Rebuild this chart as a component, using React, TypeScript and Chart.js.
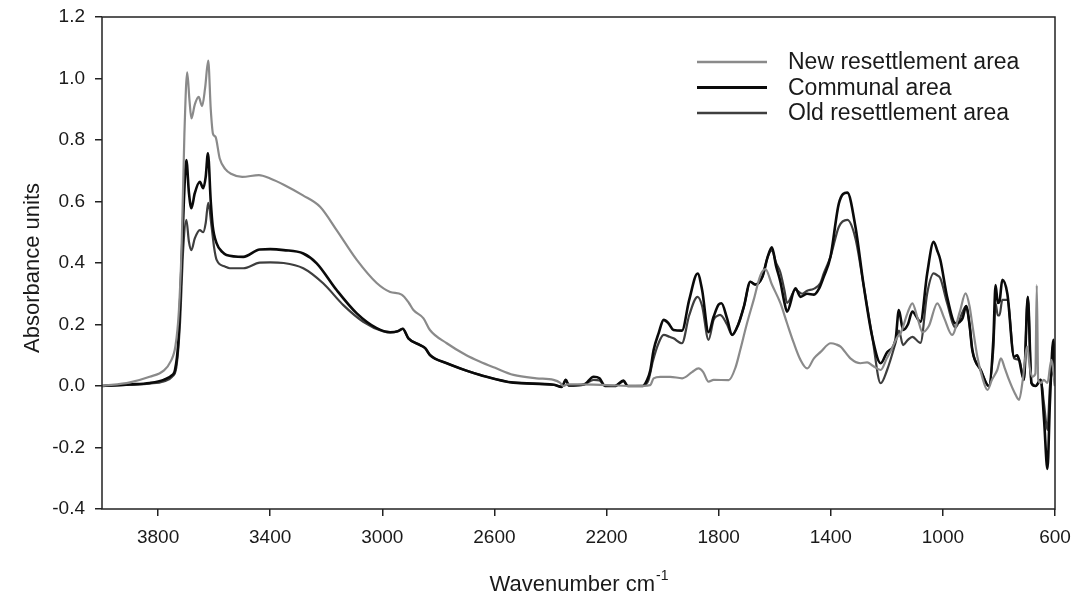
import React, { useEffect, useRef } from 'react';
import { Chart, registerables } from 'chart.js';

Chart.register(...registerables);

// Axis tick values
const xTicks = [3800, 3400, 3000, 2600, 2200, 1800, 1400, 1000, 600];
const yTicks = [-0.4, -0.2, 0, 0.2, 0.4, 0.6, 0.8, 1.0, 1.2];

const seriesNames = ['New resettlement area', 'Communal area', 'Old resettlement area'];
const seriesColors = ['#8a8a8a', '#0a0a0a', '#3e3e3e'];
const seriesWidths = [2.2, 2.6, 2.2];

// [wavenumber cm-1, absorbance]
const newSpectrum: [number, number][] = [
  [4000, 0.0], [3900, 0.012], [3830, 0.03], [3780, 0.05], [3755, 0.08], [3738, 0.13],
  [3726, 0.24], [3716, 0.45], [3706, 0.82], [3696, 1.02], [3688, 0.93], [3681, 0.87],
  [3669, 0.915], [3655, 0.94], [3643, 0.91], [3632, 0.97], [3621, 1.058], [3612, 0.9],
  [3604, 0.82], [3595, 0.81], [3580, 0.74], [3560, 0.705], [3540, 0.69], [3500, 0.68],
  [3440, 0.686], [3400, 0.675], [3350, 0.654], [3283, 0.62], [3222, 0.583], [3163, 0.507],
  [3091, 0.41], [3020, 0.335], [2972, 0.306], [2931, 0.297], [2905, 0.27], [2889, 0.247],
  [2853, 0.22], [2830, 0.182], [2770, 0.139], [2700, 0.1], [2651, 0.079], [2600, 0.06],
  [2532, 0.036], [2450, 0.025], [2389, 0.02], [2365, 0.01], [2355, 0.0], [2340, 0.005],
  [2300, 0.005], [2200, 0.003], [2100, 0.0], [2044, 0.003], [2032, 0.025], [2008, 0.03],
  [1973, 0.03], [1930, 0.025], [1895, 0.045], [1872, 0.057], [1855, 0.045], [1836, 0.014],
  [1818, 0.02], [1764, 0.019], [1740, 0.06], [1723, 0.117], [1700, 0.2], [1675, 0.28],
  [1651, 0.36], [1633, 0.38], [1610, 0.33], [1580, 0.27], [1556, 0.204], [1532, 0.14],
  [1508, 0.085], [1484, 0.057], [1460, 0.09], [1437, 0.11], [1400, 0.139], [1380, 0.135],
  [1365, 0.128], [1330, 0.09], [1294, 0.074], [1270, 0.077], [1250, 0.066], [1222, 0.052],
  [1200, 0.09], [1187, 0.112], [1162, 0.16], [1151, 0.171], [1125, 0.24], [1109, 0.269],
  [1090, 0.22], [1073, 0.175], [1050, 0.195], [1020, 0.269], [995, 0.22], [967, 0.166],
  [940, 0.24], [919, 0.301], [905, 0.26], [895, 0.2], [877, 0.095], [860, 0.03],
  [841, -0.013], [825, 0.02], [806, 0.052], [793, 0.09], [780, 0.06], [764, 0.02],
  [745, -0.02], [728, -0.045], [715, 0.02], [699, 0.128], [690, 0.06], [681, 0.03],
  [670, 0.04], [665, 0.328], [660, 0.02], [650, 0.01], [640, 0.02], [627, 0.01],
  [613, 0.085], [606, 0.05], [600, 0.0],
];

const communalSpectrum: [number, number][] = [
  [4000, 0.0], [3900, 0.005], [3830, 0.01], [3780, 0.02], [3750, 0.035], [3740, 0.05],
  [3728, 0.14], [3718, 0.35], [3708, 0.6], [3699, 0.735], [3690, 0.63], [3681, 0.578],
  [3669, 0.627], [3651, 0.664], [3639, 0.643], [3630, 0.68], [3622, 0.757], [3612, 0.6],
  [3605, 0.52], [3591, 0.464], [3570, 0.435], [3556, 0.426], [3496, 0.42], [3437, 0.444],
  [3400, 0.445], [3352, 0.442], [3282, 0.431], [3234, 0.399], [3163, 0.312], [3091, 0.236],
  [3020, 0.188], [2972, 0.175], [2945, 0.178], [2927, 0.186], [2907, 0.155], [2865, 0.133],
  [2847, 0.123], [2830, 0.101], [2770, 0.074], [2700, 0.05], [2651, 0.036], [2532, 0.011],
  [2389, 0.004], [2360, -0.003], [2345, 0.02], [2335, 0.002], [2280, 0.005], [2246, 0.03],
  [2225, 0.025], [2205, 0.0], [2170, 0.0], [2139, 0.018], [2125, 0.0], [2071, 0.0],
  [2055, 0.02], [2044, 0.05], [2032, 0.117], [2014, 0.172], [1996, 0.215], [1980, 0.205],
  [1961, 0.182], [1931, 0.18], [1905, 0.28], [1875, 0.366], [1859, 0.312], [1836, 0.175],
  [1818, 0.225], [1800, 0.265], [1790, 0.269], [1770, 0.22], [1752, 0.166], [1730, 0.2],
  [1710, 0.258], [1687, 0.339], [1669, 0.33], [1644, 0.355], [1625, 0.42], [1610, 0.451],
  [1595, 0.39], [1580, 0.34], [1565, 0.27], [1556, 0.242], [1526, 0.318], [1508, 0.29],
  [1484, 0.3], [1460, 0.297], [1440, 0.32], [1425, 0.355], [1401, 0.42], [1371, 0.594],
  [1341, 0.629], [1312, 0.518], [1282, 0.323], [1252, 0.16], [1222, 0.074], [1199, 0.11],
  [1169, 0.15], [1157, 0.247], [1142, 0.182], [1125, 0.2], [1109, 0.242], [1080, 0.209],
  [1056, 0.366], [1033, 0.469], [1020, 0.44], [1009, 0.41], [985, 0.29], [955, 0.204],
  [930, 0.22], [917, 0.26], [905, 0.2], [895, 0.117], [865, 0.052], [836, 0.0],
  [820, 0.15], [812, 0.328], [804, 0.27], [798, 0.275], [788, 0.345], [770, 0.3],
  [746, 0.095], [735, 0.1], [728, 0.085], [711, 0.02], [697, 0.29], [684, 0.01],
  [669, 0.0], [651, 0.02], [639, -0.11], [627, -0.27], [618, -0.05], [606, 0.15],
  [600, 0.02],
];

const oldSpectrum: [number, number][] = [
  [4000, 0.0], [3900, 0.004], [3830, 0.008], [3780, 0.015], [3750, 0.03], [3735, 0.06],
  [3722, 0.2], [3710, 0.45], [3699, 0.54], [3690, 0.47], [3681, 0.442], [3669, 0.48],
  [3651, 0.507], [3639, 0.5], [3630, 0.53], [3621, 0.596], [3609, 0.518], [3600, 0.45],
  [3591, 0.41], [3560, 0.388], [3544, 0.383], [3496, 0.383], [3437, 0.401], [3400, 0.402],
  [3352, 0.4], [3282, 0.383], [3211, 0.334], [3139, 0.263], [3068, 0.209], [2996, 0.177],
  [2972, 0.174], [2945, 0.178], [2927, 0.186], [2907, 0.155], [2865, 0.133], [2847, 0.123],
  [2830, 0.101], [2770, 0.074], [2700, 0.05], [2651, 0.036], [2532, 0.011], [2389, 0.004],
  [2360, -0.003], [2345, 0.02], [2335, 0.002], [2280, 0.005], [2246, 0.02], [2225, 0.018],
  [2205, 0.0], [2170, 0.0], [2139, 0.015], [2125, 0.0], [2071, 0.0], [2050, 0.02],
  [2035, 0.08], [2014, 0.14], [1996, 0.166], [1975, 0.16], [1961, 0.155], [1931, 0.139],
  [1905, 0.23], [1875, 0.29], [1859, 0.26], [1836, 0.15], [1818, 0.215], [1800, 0.23],
  [1795, 0.231], [1770, 0.2], [1752, 0.166], [1730, 0.2], [1710, 0.258], [1687, 0.339],
  [1669, 0.33], [1644, 0.355], [1625, 0.42], [1610, 0.44], [1595, 0.4], [1580, 0.37],
  [1565, 0.31], [1556, 0.27], [1526, 0.313], [1502, 0.3], [1484, 0.31], [1461, 0.316],
  [1437, 0.335], [1425, 0.366], [1401, 0.42], [1371, 0.518], [1341, 0.54], [1312, 0.48],
  [1282, 0.323], [1252, 0.16], [1222, 0.009], [1199, 0.052], [1169, 0.14], [1157, 0.18],
  [1142, 0.133], [1125, 0.15], [1109, 0.16], [1080, 0.14], [1056, 0.301], [1033, 0.366],
  [1020, 0.36], [1009, 0.35], [985, 0.27], [955, 0.19], [930, 0.24], [917, 0.26],
  [905, 0.2], [895, 0.117], [865, 0.052], [836, 0.0], [820, 0.12], [812, 0.269],
  [804, 0.23], [798, 0.23], [788, 0.28], [770, 0.28], [746, 0.09], [728, 0.085],
  [711, 0.02], [697, 0.29], [684, 0.01], [669, 0.0], [651, 0.02], [639, -0.06],
  [627, -0.143], [618, 0.0], [606, 0.045], [600, 0.0],
];

const spectra = [newSpectrum, communalSpectrum, oldSpectrum];

const FONT = '"Liberation Sans", Arial, Helvetica, sans-serif';
const INK = '#1a1a1a';

// Frame around the plot area, the legend block and both axis titles
const decorations = {
  id: 'decorations',
  afterDraw(chart: any) {
    const { ctx, chartArea } = chart;
    const { left, top, right, bottom } = chartArea;
    ctx.save();

    ctx.strokeStyle = '#222';
    ctx.lineWidth = 1.5;
    ctx.strokeRect(left, top, right - left, bottom - top);

    // legend
    const lx0 = 697;
    const lx1 = 767;
    const tx = 788;
    const y0 = 62;
    const dy = 25.5;
    ctx.font = `23px ${FONT}`;
    ctx.textBaseline = 'middle';
    ctx.textAlign = 'left';
    chart.data.datasets.forEach((ds: any, i: number) => {
      const y = y0 + i * dy;
      ctx.strokeStyle = ds.borderColor;
      ctx.lineWidth = ds.borderWidth + 0.3;
      ctx.beginPath();
      ctx.moveTo(lx0, y);
      ctx.lineTo(lx1, y);
      ctx.stroke();
      ctx.fillStyle = INK;
      ctx.fillText(ds.label, tx, y + 1);
    });

    // x-axis title with superscript unit power
    const mainText = 'Wavenumber cm';
    const supText = '-1';
    ctx.font = `22px ${FONT}`;
    const wMain = ctx.measureText(mainText).width;
    ctx.font = `14px ${FONT}`;
    const wSup = ctx.measureText(supText).width;
    const cx = (left + right) / 2;
    const startX = cx - (wMain + wSup) / 2;
    ctx.textBaseline = 'alphabetic';
    ctx.fillStyle = INK;
    ctx.font = `22px ${FONT}`;
    ctx.fillText(mainText, startX, 591);
    ctx.font = `14px ${FONT}`;
    ctx.fillText(supText, startX + wMain + 1, 580);

    // y-axis title
    ctx.translate(39, 268);
    ctx.rotate(-Math.PI / 2);
    ctx.font = `22px ${FONT}`;
    ctx.textAlign = 'center';
    ctx.textBaseline = 'alphabetic';
    ctx.fillText('Absorbance units', 0, 0);

    ctx.restore();
  },
};

export default function App() {
  const canvasRef = useRef<HTMLCanvasElement | null>(null);

  useEffect(() => {
    const canvas = canvasRef.current;
    if (!canvas) return;

    const datasets = spectra.map((pts, i) => ({
      label: seriesNames[i],
      data: pts.map(([x, y]) => ({ x, y })),
      borderColor: seriesColors[i],
      borderWidth: seriesWidths[i],
      pointRadius: 0,
      fill: false,
      cubicInterpolationMode: 'monotone' as const,
    }));

    const chart = new Chart(canvas, {
      type: 'line',
      data: { datasets },
      plugins: [decorations],
      options: {
        responsive: false,
        animation: false,
        devicePixelRatio: 1,
        layout: { padding: { left: 0, right: 23, top: 17, bottom: 0 } },
        plugins: {
          legend: { display: false },
          tooltip: { enabled: false },
        },
        scales: {
          x: {
            type: 'linear',
            min: 600,
            max: 4000,
            reverse: true,
            afterBuildTicks: (scale: any) => {
              scale.ticks = xTicks.map((v) => ({ value: v }));
            },
            afterFit: (scale: any) => {
              scale.height = 93;
              scale.paddingLeft = 0;
              scale.paddingRight = 0;
            },
            ticks: {
              autoSkip: false,
              maxRotation: 0,
              padding: 10,
              color: INK,
              font: { family: FONT, size: 19 },
              callback: (v: any) => String(v),
            },
            grid: {
              display: true,
              drawOnChartArea: false,
              drawTicks: true,
              tickLength: 7,
              color: '#222',
              lineWidth: 1.5,
            },
            border: { display: false },
          },
          y: {
            type: 'linear',
            min: -0.4,
            max: 1.2,
            afterBuildTicks: (scale: any) => {
              scale.ticks = yTicks.map((v) => ({ value: v }));
            },
            afterFit: (scale: any) => {
              scale.width = 102;
              scale.paddingTop = 0;
              scale.paddingBottom = 0;
            },
            ticks: {
              padding: 10,
              color: INK,
              font: { family: FONT, size: 19 },
              callback: (v: any) => {
                const n = Number(v);
                return (Math.abs(n) < 1e-9 ? 0 : n).toFixed(1);
              },
            },
            grid: {
              display: true,
              drawOnChartArea: false,
              drawTicks: true,
              tickLength: 7,
              color: '#222',
              lineWidth: 1.5,
            },
            border: { display: false },
          },
        },
      },
    });

    return () => {
      chart.destroy();
    };
  }, []);

  return (
    <div
      style={{
        position: 'fixed',
        left: 0,
        top: 0,
        width: 1078,
        height: 602,
        background: '#ffffff',
      }}
    >
      <canvas
        ref={canvasRef}
        width={1078}
        height={602}
        style={{ display: 'block', width: 1078, height: 602 }}
      />
    </div>
  );
}
